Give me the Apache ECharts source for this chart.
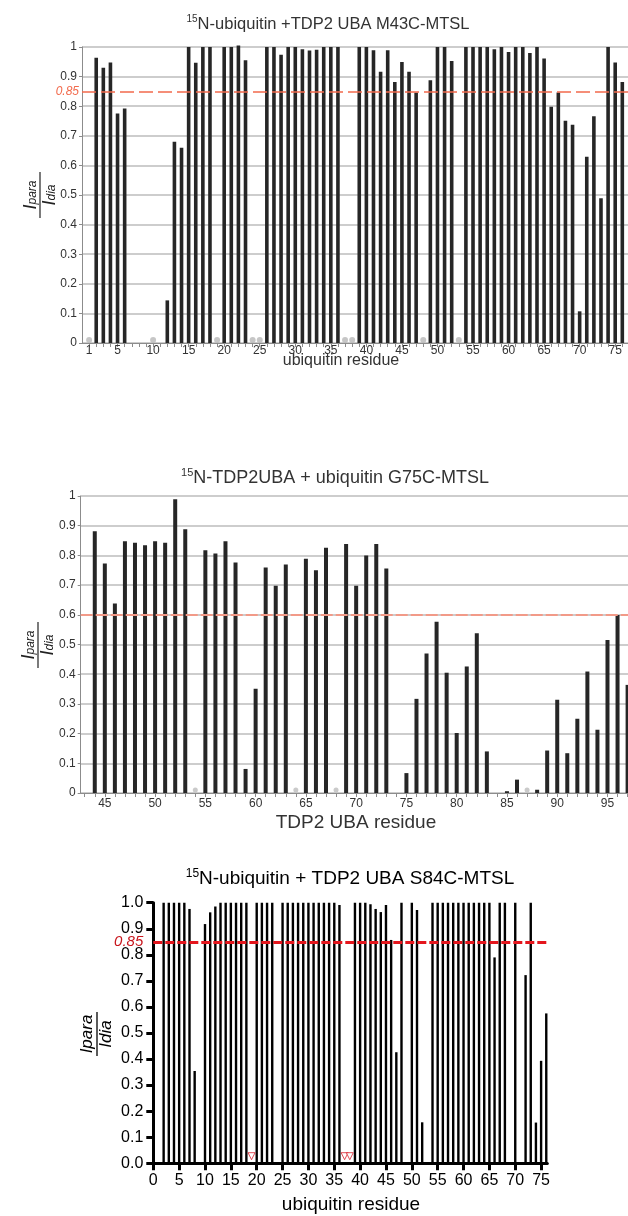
<!DOCTYPE html>
<html><head><meta charset="utf-8">
<script src="https://cdn.jsdelivr.net/npm/echarts@6/dist/echarts.min.js"></script>
<style>html,body{margin:0;padding:0;background:#fff}#c{width:628px;height:1216px}</style>
</head><body><div id="c"></div>
<script>
// ---------- Panel 1: 15N-ubiquitin + TDP2 UBA M43C-MTSL ----------
const residues1 = [2,3,4,5,6,12,13,14,15,16,17,18,20,21,22,23,26,27,28,29,30,31,32,33,34,35,36,39,40,41,42,43,44,45,46,47,49,50,51,52,54,55,56,57,58,59,60,61,62,63,64,65,66,67,68,69,70,71,72,73,74,75,76];
const values1 = [0.964,0.930,0.948,0.775,0.792,0.144,0.680,0.660,1.0,0.947,1.0,1.0,1.0,1.0,1.005,0.955,1.0,1.0,0.974,1.0,1.0,0.992,0.988,0.991,1.0,1.0,1.0,1.0,1.0,0.989,0.916,0.989,0.882,0.949,0.916,0.846,0.888,1.0,1.0,0.953,1.0,1.0,1.0,1.0,0.992,1.0,0.983,1.0,1.0,0.980,1.0,0.961,0.798,0.846,0.751,0.737,0.107,0.629,0.766,0.489,1.0,0.948,0.882];
const missing1 = [1,10,19,24,25,37,38,48,53];
const threshold1 = 0.85;
const xLabels1 = [1,5,10,15,20,25,30,35,40,45,50,55,60,65,70,75];

// ---------- Panel 2: 15N-TDP2UBA + ubiquitin G75C-MTSL ----------
const residues2 = [44,45,46,47,48,49,50,51,52,53,55,56,57,58,59,60,61,62,63,65,66,67,69,70,71,72,73,75,76,77,78,79,80,81,82,83,85,86,88,89,90,91,92,93,94,95,96,97];
const values2 = [0.881,0.773,0.638,0.848,0.843,0.834,0.848,0.843,0.989,0.888,0.817,0.806,0.848,0.776,0.081,0.351,0.759,0.698,0.769,0.789,0.750,0.826,0.838,0.698,0.800,0.838,0.756,0.067,0.317,0.470,0.577,0.405,0.202,0.426,0.538,0.140,0.006,0.045,0.011,0.143,0.314,0.134,0.250,0.409,0.213,0.515,0.599,0.364];
const missing2 = [54,64,68,87];
const threshold2 = 0.6;
const xLabels2 = [45,50,55,60,65,70,75,80,85,90,95];

// ---------- Panel 3: 15N-ubiquitin + TDP2 UBA S84C-MTSL ----------
const residues3 = [2,3,4,5,6,7,8,10,11,12,13,14,15,16,17,18,20,21,22,23,25,26,27,28,29,30,31,32,33,34,35,36,39,40,41,42,43,44,45,46,47,48,50,51,52,54,55,56,57,58,59,60,61,62,63,64,65,66,67,68,70,72,73,74,75,76];
const values3 = [1.0,1.0,1.0,1.0,1.0,0.976,0.354,0.918,0.963,0.985,1.0,1.0,1.0,1.0,1.0,1.0,1.0,1.0,1.0,1.0,1.0,1.0,1.0,1.0,1.0,1.0,1.0,1.0,1.0,1.0,1.0,0.991,1.0,1.0,1.0,0.994,0.976,0.964,0.991,0.857,0.426,1.0,1.0,0.972,0.157,1.0,1.0,1.0,1.0,1.0,1.0,1.0,1.0,1.0,1.0,1.0,1.0,0.790,1.0,1.0,1.0,0.722,1.0,0.156,0.393,0.575];
const missing3 = [19,37,38];
const threshold3 = 0.85;
const xLabels3 = [0,5,10,15,20,25,30,35,40,45,50,55,60,65,70,75];

const FONT = "'Liberation Sans', Arial, Helvetica, sans-serif";

function intRange(a, b) { const r = []; for (let i = a; i <= b; i++) r.push(i); return r; }
function pairs(xs, ys) { return xs.map((x, i) => [x, ys[i]]); }

const chart = echarts.init(document.getElementById('c'), null, {renderer: 'canvas'});

function title(x, y, main, size, color) {
  return {
    type: 'text', x: x, y: y,
    style: {
      text: '{s|15}{m|' + main + '}',
      align: 'center', verticalAlign: 'middle',
      rich: {
        s: {fontSize: Math.round(size * 0.62), fontFamily: FONT, fill: color, verticalAlign: 'top', lineHeight: Math.round(size * 0.62)},
        m: {fontSize: size, fontFamily: FONT, fill: color, lineHeight: size + 4}
      }
    }
  };
}
function plainText(x, y, str, size, color) {
  return {type: 'text', x: x, y: y, style: {text: str, fontSize: size, fontFamily: FONT, fill: color, align: 'center', verticalAlign: 'middle'}};
}
function fraction(cx, cy, opt) {
  const rich = {
    i: {fontSize: opt.big, fontStyle: 'italic', fontFamily: FONT, fill: opt.color, lineHeight: opt.lh},
    s: {fontSize: opt.small, fontStyle: 'italic', fontFamily: FONT, fill: opt.color, lineHeight: opt.small, verticalAlign: opt.sub ? 'bottom' : 'middle'}
  };
  return {
    type: 'group', x: cx, y: cy, rotation: Math.PI / 2,
    children: [
      {type: 'text', x: 0, y: -opt.gap, style: {text: '{i|I}{s|para}', rich: rich, align: 'center', verticalAlign: 'bottom'}},
      {type: 'line', shape: {x1: -opt.len / 2, y1: 0, x2: opt.len / 2, y2: 0}, style: {stroke: opt.color, lineWidth: opt.lw}},
      {type: 'text', x: 0, y: opt.gap, style: {text: '{i|I}{s|dia}', rich: rich, align: 'center', verticalAlign: 'top'}}
    ]
  };
}

const grayAxis = '#8c8c8c';

const option = {
  backgroundColor: '#fff',
  animation: false,
  grid: [
    {left: 82, top: 47, width: 546, height: 296},
    {left: 80.7, top: 496, width: 547.3, height: 297},
    {left: 153.3, top: 902.7, width: 394, height: 260.5}
  ],
  xAxis: [
    {gridIndex: 0, type: 'value', min: 0, max: 76.8,
     axisLine: {show: true, onZero: false, lineStyle: {color: grayAxis, width: 1}},
     axisTick: {show: true, customValues: intRange(1, 76), length: 4, lineStyle: {color: grayAxis}},
     axisLabel: {customValues: xLabels1, fontSize: 12, color: '#333', margin: 2, fontFamily: FONT},
     splitLine: {show: false}},
    {gridIndex: 1, type: 'value', min: 42.6, max: 97.04,
     axisLine: {show: true, onZero: false, lineStyle: {color: grayAxis, width: 1}},
     axisTick: {show: true, customValues: intRange(43, 97), length: 4, lineStyle: {color: grayAxis}},
     axisLabel: {customValues: xLabels2, fontSize: 12, color: '#333', margin: 5, fontFamily: FONT},
     splitLine: {show: false}},
    {gridIndex: 2, type: 'value', min: 0, max: 76.2,
     axisLine: {show: true, onZero: false, lineStyle: {color: '#000', width: 3}},
     axisTick: {show: true, customValues: xLabels3, length: 7, lineStyle: {color: '#000', width: 3}},
     axisLabel: {customValues: xLabels3, fontSize: 16, color: '#000', margin: 9, fontFamily: FONT},
     splitLine: {show: false}}
  ],
  yAxis: [
    {gridIndex: 0, type: 'value', min: 0, max: 1, interval: 0.1,
     axisLine: {show: true, lineStyle: {color: grayAxis}},
     axisTick: {show: true, length: 3, lineStyle: {color: grayAxis}},
     axisLabel: {fontSize: 12, color: '#333', margin: 5, fontFamily: FONT},
     splitLine: {show: true, lineStyle: {color: '#bdbdbd', width: 1.5}}},
    {gridIndex: 1, type: 'value', min: 0, max: 1, interval: 0.1,
     axisLine: {show: true, lineStyle: {color: grayAxis}},
     axisTick: {show: true, length: 3, lineStyle: {color: grayAxis}},
     axisLabel: {fontSize: 12, color: '#333', margin: 5, fontFamily: FONT},
     splitLine: {show: true, lineStyle: {color: '#bdbdbd', width: 1.5}}},
    {gridIndex: 2, type: 'value', min: 0, max: 1, interval: 0.1,
     axisLine: {show: true, lineStyle: {color: '#000', width: 3}},
     axisTick: {show: true, length: 7, lineStyle: {color: '#000', width: 3}},
     axisLabel: {fontSize: 16, color: '#000', margin: 10, fontFamily: FONT, formatter: v => v.toFixed(1)},
     splitLine: {show: false}}
  ],
  series: [
    {type: 'bar', xAxisIndex: 0, yAxisIndex: 0, data: pairs(residues1, values1), barWidth: 3.6, clip: false,
     itemStyle: {color: '#262626'}, z: 4,
     markLine: {silent: true, symbol: 'none', data: [{yAxis: threshold1}],
       lineStyle: {color: '#f26a4c', type: [14, 5], width: 1.5},
       label: {show: true, position: 'start', formatter: String(threshold1), color: '#f26a4c', fontStyle: 'italic', fontSize: 12, fontFamily: FONT, distance: 3}}},
    {type: 'scatter', xAxisIndex: 0, yAxisIndex: 0, data: missing1.map(r => [r, 0]), symbol: 'circle', symbolSize: 6, symbolOffset: [0, -3],
     itemStyle: {color: '#b8b8b8'}, z: 5, silent: true},
    {type: 'bar', xAxisIndex: 1, yAxisIndex: 1, data: pairs(residues2, values2), barWidth: 4, clip: false,
     itemStyle: {color: '#262626'}, z: 4,
     markLine: {silent: true, symbol: 'none', data: [{yAxis: threshold2}],
       lineStyle: {color: '#f29a88', type: [12, 3], width: 2},
       label: {show: false}}},
    {type: 'scatter', xAxisIndex: 1, yAxisIndex: 1, data: missing2.map(r => [r, 0]), symbol: 'circle', symbolSize: 5, symbolOffset: [0, -3],
     itemStyle: {color: '#bdbdbd'}, z: 5, silent: true},
    {type: 'bar', xAxisIndex: 2, yAxisIndex: 2, data: pairs(residues3, values3), barWidth: 2.4, clip: false,
     itemStyle: {color: '#000'}, z: 4,
     markLine: {silent: true, symbol: 'none', data: [{yAxis: threshold3}], z: 6,
       lineStyle: {color: '#e4161d', type: [9, 3], width: 3},
       label: {show: true, position: 'start', formatter: String(threshold3), color: '#c8161d', fontStyle: 'italic', fontSize: 15, fontFamily: FONT, distance: 10}}},
    {type: 'scatter', xAxisIndex: 2, yAxisIndex: 2, data: missing3.map(r => [r, 0]), symbol: 'triangle', symbolRotate: 180, symbolSize: 7, symbolOffset: [0, -7],
     itemStyle: {color: '#fff', borderColor: '#d9232e', borderWidth: 1}, z: 5, silent: true}
  ],
  graphic: [
    title(328, 24, 'N-ubiquitin +TDP2 UBA M43C-MTSL', 16.5, '#333'),
    title(335, 478, 'N-TDP2UBA + ubiquitin G75C-MTSL', 18, '#333'),
    title(350, 879, 'N-ubiquitin + TDP2 UBA S84C-MTSL', 19, '#000'),
    plainText(341, 361, 'ubiquitin residue', 16, '#333'),
    plainText(356, 823, 'TDP2 UBA residue', 19, '#333'),
    plainText(351, 1205, 'ubiquitin residue', 19, '#000'),
    fraction(40, 195, {big: 18, lh: 16, small: 12, color: '#222', gap: 1.5, len: 46, lw: 1.2, sub: true}),
    fraction(38, 645, {big: 18, lh: 16, small: 12, color: '#222', gap: 1.5, len: 46, lw: 1.2, sub: true}),
    fraction(97, 1034, {big: 17, lh: 17, small: 17, color: '#000', gap: 1, len: 44, lw: 1.3, sub: false})
  ]
};
chart.setOption(option);
</script>
</body></html>
